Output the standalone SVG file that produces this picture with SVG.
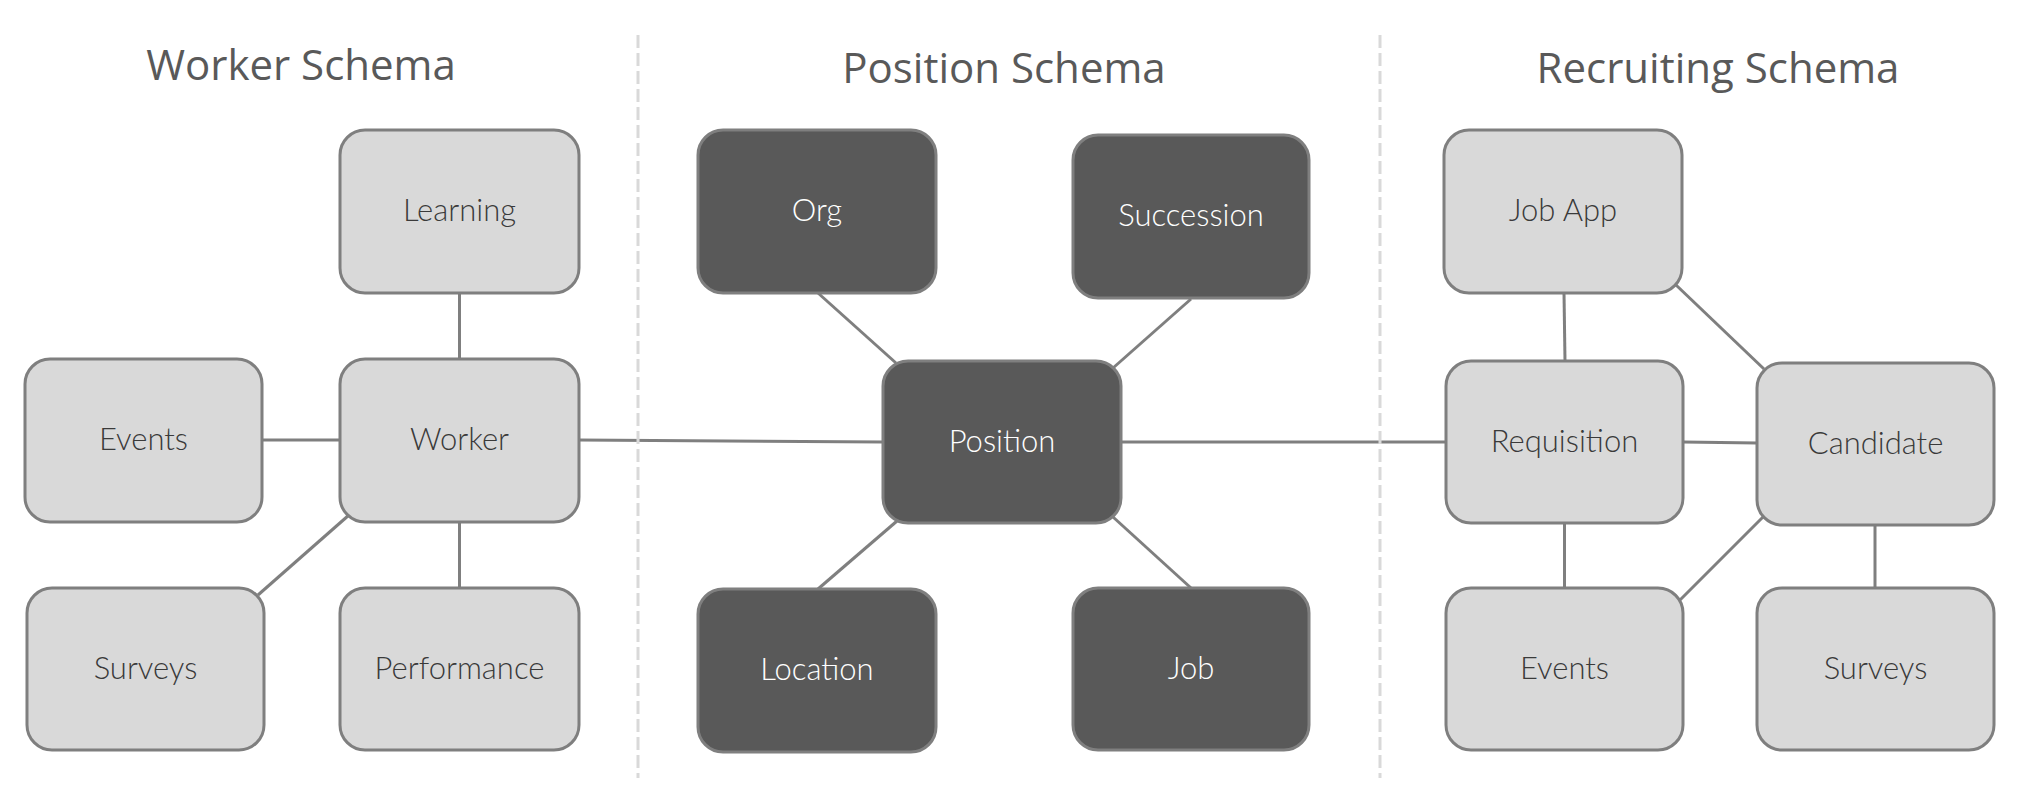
<svg xmlns="http://www.w3.org/2000/svg" width="2018" height="802" viewBox="0 0 2018 802">
<style>
.title{font-family:"Open Sans","Liberation Sans",sans-serif;font-size:42px;fill:#595959;text-anchor:middle}
.light rect{fill:#d9d9d9;stroke:#7f7f7f;stroke-width:3}
.dark rect{fill:#595959;stroke:#7f7f7f;stroke-width:3}
.light text{font-family:Lato,"Liberation Sans",sans-serif;font-weight:300;font-size:31px;fill:#3a3a3a;text-anchor:middle}
.dark text{font-family:Lato,"Liberation Sans",sans-serif;font-weight:300;font-size:31px;fill:#ffffff;text-anchor:middle}
.conn line{stroke:#7f7f7f;stroke-width:3}
.div line{stroke:#d9d9d9;stroke-width:3;stroke-dasharray:13 5}
</style>
<rect width="2018" height="802" fill="#ffffff"/>
<text class="title" x="301" y="80">Worker Schema</text>
<text class="title" x="1004" y="83">Position Schema</text>
<text class="title" x="1718" y="83">Recruiting Schema</text>
<g id="connectors" class="conn">
<line x1="459.5" y1="293" x2="459.5" y2="359"/>
<line x1="262" y1="440" x2="340" y2="440"/>
<line x1="349" y1="515" x2="258" y2="595"/>
<line x1="459.5" y1="522" x2="459.5" y2="588"/>
<line x1="579" y1="440" x2="883" y2="442"/>
<line x1="818" y1="293" x2="896" y2="363"/>
<line x1="1191" y1="299" x2="1113" y2="368"/>
<line x1="897" y1="521" x2="818" y2="589"/>
<line x1="1113" y1="517" x2="1191" y2="588"/>
<line x1="1121" y1="442" x2="1446" y2="442"/>
<line x1="1564" y1="293" x2="1565" y2="361"/>
<line x1="1676" y1="285" x2="1764" y2="369"/>
<line x1="1683" y1="442" x2="1757" y2="443"/>
<line x1="1564.5" y1="523" x2="1564.5" y2="588"/>
<line x1="1763" y1="517" x2="1680" y2="600"/>
<line x1="1875" y1="525" x2="1875" y2="588"/>
</g>
<g class="div">
<line x1="638" y1="35" x2="638" y2="778"/>
<line x1="1380" y1="35" x2="1380" y2="778"/>
</g>
<g id="learning" class="light"><rect x="340" y="130" width="239" height="163" rx="25"/><text x="459.5" y="221">Learning</text></g>
<g id="worker" class="light"><rect x="340" y="359" width="239" height="163" rx="25"/><text x="459.5" y="450">Worker</text></g>
<g id="events-w" class="light"><rect x="25" y="359" width="237" height="163" rx="25"/><text x="143.5" y="450">Events</text></g>
<g id="surveys-w" class="light"><rect x="27" y="588" width="237" height="162" rx="25"/><text x="145.5" y="679">Surveys</text></g>
<g id="performance" class="light"><rect x="340" y="588" width="239" height="162" rx="25"/><text x="459.5" y="679">Performance</text></g>
<g id="org" class="dark"><rect x="698" y="130" width="238" height="163" rx="25"/><text x="817" y="221">Org</text></g>
<g id="succession" class="dark"><rect x="1073" y="135" width="236" height="163" rx="25"/><text x="1191" y="226">Succession</text></g>
<g id="position" class="dark"><rect x="883" y="361" width="238" height="162" rx="25"/><text x="1002" y="452">Position</text></g>
<g id="location" class="dark"><rect x="698" y="589" width="238" height="163" rx="25"/><text x="817" y="680">Location</text></g>
<g id="job" class="dark"><rect x="1073" y="588" width="236" height="162" rx="25"/><text x="1191" y="679">Job</text></g>
<g id="jobapp" class="light"><rect x="1444" y="130" width="238" height="163" rx="25"/><text x="1563" y="221">Job App</text></g>
<g id="requisition" class="light"><rect x="1446" y="361" width="237" height="162" rx="25"/><text x="1564.5" y="452">Requisition</text></g>
<g id="candidate" class="light"><rect x="1757" y="363" width="237" height="162" rx="25"/><text x="1875.5" y="454">Candidate</text></g>
<g id="events-r" class="light"><rect x="1446" y="588" width="237" height="162" rx="25"/><text x="1564.5" y="679">Events</text></g>
<g id="surveys-r" class="light"><rect x="1757" y="588" width="237" height="162" rx="25"/><text x="1875.5" y="679">Surveys</text></g>
</svg>
